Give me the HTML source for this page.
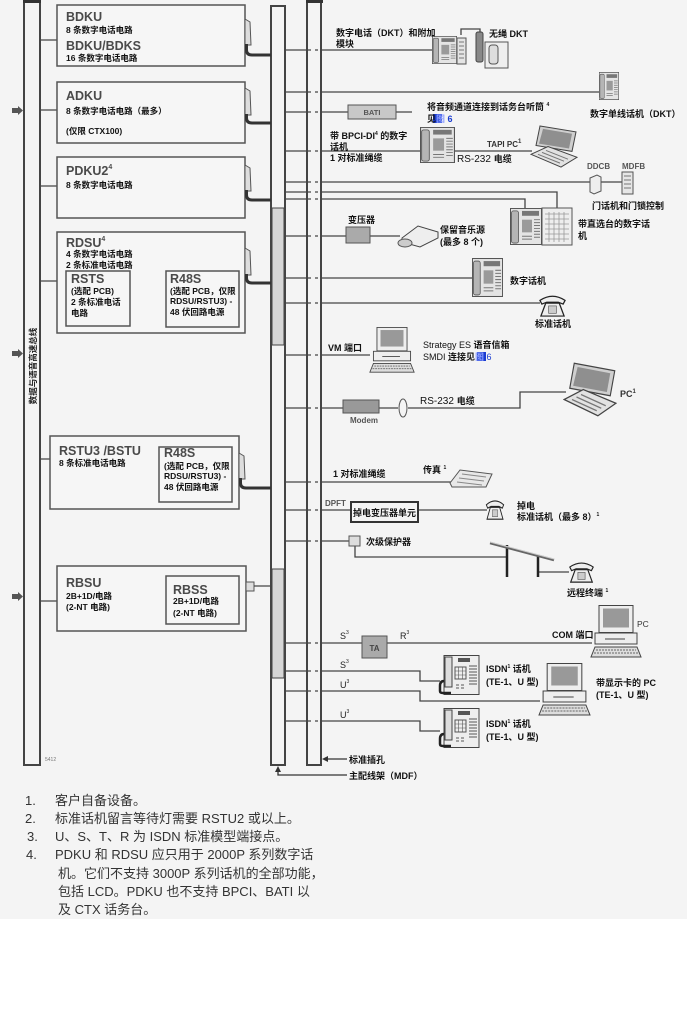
<!DOCTYPE html>
<html><head><meta charset="utf-8">
<style>
html,body{margin:0;padding:0;background:#fff;}
svg{display:block;}
text{font-family:"Liberation Sans","Noto Sans CJK SC",sans-serif;}
.t{font-size:12.5px;font-weight:bold;fill:#4a4a4a;}
.s{font-size:8.5px;font-weight:bold;fill:#111;}
.l{font-size:9px;font-weight:bold;fill:#111;}
.g{font-size:8px;font-weight:bold;fill:#555;}
.fn{font-size:13px;fill:#333;}
</style></head><body>
<svg width="687" height="1013" viewBox="0 0 687 1013" xmlns="http://www.w3.org/2000/svg">
<defs>
<symbol id="dph" viewBox="0 0 32 38" preserveAspectRatio="none">
<rect x="0.5" y="0.5" width="31" height="37" fill="#e4e4e4" stroke="#555"/>
<rect x="1.5" y="3" width="7" height="33" rx="2" fill="#b5b5b5" stroke="#555" stroke-width="0.8"/>
<rect x="12" y="3" width="17" height="5" fill="#777"/>
<rect x="12" y="12" width="10" height="13" fill="#9a9a9a"/>
<path d="M24 12h6M24 15h6M24 18h6M24 21h6M24 24h6M24 27h6M24 30h6M12 29h10M12 32h10" stroke="#777" stroke-width="1"/>
</symbol>
<symbol id="lap" viewBox="0 0 48 44" preserveAspectRatio="none">
<polygon points="10,1 46,7 42,27 6,21" fill="#cfcfcf" stroke="#444"/>
<polygon points="13,4 42,9 39,24 9,19" fill="#8f8f8f"/>
<polygon points="1,30 31,43 47,33 18,22" fill="#e2e2e2" stroke="#444"/>
<path d="M8,30 L30,39 M12,28 L34,37 M16,26 L38,35" stroke="#777"/>
</symbol>
<symbol id="pc" viewBox="0 0 52 53" preserveAspectRatio="none">
<rect x="9" y="0.5" width="34" height="27" fill="#eee" stroke="#444"/>
<rect x="13" y="3.5" width="26" height="19" fill="#999"/>
<rect x="5" y="28" width="42" height="11" fill="#eee" stroke="#444"/>
<path d="M15 34h20" stroke="#444"/>
<polygon points="1,52 51,52 47,42 5,42" fill="#ddd" stroke="#444"/>
<path d="M6 45h40M4 48h44" stroke="#666" stroke-dasharray="2,1"/>
</symbol>
<symbol id="sph" viewBox="0 0 30 26" preserveAspectRatio="none">
<path d="M2 8 Q15 -1 28 8 L26 12 L21 10 L9 10 L4 12 Z" fill="#eee" stroke="#222" stroke-width="1.3"/>
<path d="M8 11 L22 11 L27 25 L3 25 Z" fill="#eee" stroke="#222" stroke-width="1.3"/>
<rect x="11" y="14" width="8" height="8" fill="#ccc" stroke="#555" stroke-width="0.7"/>
</symbol>
<symbol id="isdn" viewBox="0 0 42 40" preserveAspectRatio="none">
<rect x="6" y="0.5" width="35" height="39" fill="#eee" stroke="#444"/>
<rect x="7" y="2" width="7" height="30" fill="#ddd" stroke="#444"/>
<path d="M6 26 q-4 0 -4 5 l0 5 q0 2 3 2 l8 0" stroke="#222" stroke-width="2.5" fill="none"/>
<rect x="20" y="3" width="12" height="4" fill="#555"/>
<rect x="17" y="12" width="11" height="12" fill="none" stroke="#555"/>
<path d="M17 16h11M17 20h11M20.7 12v12M24.3 12v12" stroke="#555" stroke-width="0.6"/>
<path d="M31 11h8M31 14h8M31 17h8M31 20h8M31 23h8M31 26h8M31 29h8" stroke="#555"/>
<path d="M18 30h3M23 30h3M18 33h3M23 33h3" stroke="#555"/>
</symbol>
</defs>

<rect width="687" height="1013" fill="#fff"/>
<rect width="687" height="919" fill="#f4f4f4"/>

<!-- left bar -->
<rect x="24" y="1" width="16" height="764" fill="#f4f4f4" stroke="#444" stroke-width="2"/>
<rect x="23" y="0" width="18" height="3" fill="#333"/>
<text transform="translate(36,366) rotate(-90)" text-anchor="middle" style="font-size:8.5px;font-weight:bold;fill:#222">数据与语音高速总线</text>
<g fill="#555">
<rect x="12" y="108" width="6" height="5"/><polygon points="18,106 23,110.5 18,115"/>
<rect x="12" y="351" width="6" height="5"/><polygon points="18,349 23,353.5 18,358"/>
<rect x="12" y="594" width="6" height="5"/><polygon points="18,592 23,596.5 18,601"/>
</g>
<path d="M41 40H57M41 110H57M41 186H57M41 281H57M41 459H50M41 601H57" stroke="#444" stroke-width="1.3"/>

<!-- left bus -->
<rect x="271" y="6" width="14" height="759" fill="#f4f4f4" stroke="#444" stroke-width="2"/>
<rect x="272" y="208" width="12" height="137" fill="#d6d6d6" stroke="#444" stroke-width="1"/>
<rect x="272" y="569" width="12" height="109" fill="#d6d6d6" stroke="#444" stroke-width="1"/>
<!-- right bus -->
<rect x="307" y="1" width="14" height="764" fill="#f4f4f4" stroke="#444" stroke-width="2"/>
<rect x="306" y="0" width="17" height="3" fill="#333"/>

<!-- bus crossings -->
<path d="M285 50H311M315 50H318M285 92H311M315 92H318M285 112H311M315 112H318M285 151H311M315 151H318M285 182H311M315 182H318M285 192H311M315 192H318M285 199H311M315 199H318M285 236H311M315 236H318M285 278H311M315 278H318M285 303H311M315 303H318M285 355H311M315 355H318M285 408H311M315 408H318M285 482H311M315 482H318M285 510H311M315 510H318M285 541H311M315 541H318M285 643H311M315 643H318M285 671H311M315 671H318M285 691H311M315 691H318M285 721H311M315 721H318" stroke="#444" stroke-width="1.3" fill="none"/>

<!-- cards -->
<g fill="#f6f6f6" stroke="#555" stroke-width="1.5">
<rect x="57" y="5" width="188" height="61"/>
<rect x="57" y="82" width="188" height="61"/>
<rect x="57" y="157" width="188" height="61"/>
<rect x="57" y="232" width="188" height="101"/>
<rect x="66" y="271" width="64" height="55"/>
<rect x="166" y="271" width="73" height="56"/>
<rect x="50" y="436" width="189" height="73"/>
<rect x="159" y="447" width="73" height="55"/>
<rect x="57" y="566" width="189" height="65"/>
<rect x="166" y="576" width="73" height="48"/>
</g>
<!-- tabs -->
<g fill="#ddd" stroke="#555" stroke-width="1">
<polygon points="245,19 250,22 251,45 245,45"/>
<polygon points="245,88 250,91 251,115 245,115"/>
<polygon points="245,165 250,168 251,191 245,191"/>
<polygon points="245,248 250,251 251,275 245,275"/>
<polygon points="239,453 244,456 245,479 239,479"/>
<rect x="246" y="582" width="8" height="9"/>
</g>
<g stroke="#333" stroke-width="3" fill="none">
<path d="M246.5 44V50Q246.5 55 252 55H271"/>
<path d="M246.5 114V118Q246.5 123 252 123H271"/>
<path d="M246.5 190V195Q246.5 200 252 200H271"/>
<path d="M246.5 274V278Q246.5 283 252 283H271"/>
<path d="M240.5 478V483Q240.5 488 246 488H271"/>
</g>
<path d="M254 586H271" stroke="#444" stroke-width="1.3"/>

<!-- card text -->
<text class="t" x="66" y="21">BDKU</text>
<text class="s" x="66" y="33">8 条数字电话电路</text>
<text class="t" x="66" y="50">BDKU/BDKS</text>
<text class="s" x="66" y="61">16 条数字电话电路</text>
<text class="t" x="66" y="100">ADKU</text>
<text class="s" x="66" y="114">8 条数字电话电路（最多）</text>
<text class="s" x="66" y="134">(仅限 CTX100)</text>
<text class="t" x="66" y="175">PDKU2<tspan style="font-size:7px" dy="-6">4</tspan></text>
<text class="s" x="66" y="188">8 条数字电话电路</text>
<text class="t" x="66" y="247">RDSU<tspan style="font-size:7px" dy="-6">4</tspan></text>
<text class="s" x="66" y="257">4 条数字电话电路</text>
<text class="s" x="66" y="268">2 条标准电话电路</text>
<text class="t" x="71" y="283">RSTS</text>
<text class="s" x="71" y="294">(选配 PCB)</text>
<text class="s" x="71" y="305">2 条标准电话</text>
<text class="s" x="71" y="316">电路</text>
<text class="t" x="170" y="283">R48S</text>
<text class="s" x="170" y="294">(选配 PCB，仅限</text>
<text class="s" x="170" y="304">RDSU/RSTU3) -</text>
<text class="s" x="170" y="315">48 伏回路电源</text>
<text class="t" x="59" y="455">RSTU3 /BSTU</text>
<text class="s" x="59" y="466">8 条标准电话电路</text>
<text class="t" x="164" y="457">R48S</text>
<text class="s" x="164" y="469">(选配 PCB，仅限</text>
<text class="s" x="164" y="479">RDSU/RSTU3) -</text>
<text class="s" x="164" y="490">48 伏回路电源</text>
<text class="t" x="66" y="587">RBSU</text>
<text class="s" x="66" y="599">2B+1D/电路</text>
<text class="s" x="66" y="610">(2-NT 电路)</text>
<text class="t" x="173" y="594">RBSS</text>
<text class="s" x="173" y="604">2B+1D/电路</text>
<text class="s" x="173" y="616">(2-NT 电路)</text>
<text x="45" y="761" style="font-size:5px;fill:#777">5412</text>

<!-- outward lines -->
<path d="M322 50H432M322 92H600M322 112H348M396 112H412M322 151H421M455 151H532M322 182H591M600 182H622M322 192H557V208M322 199H525V208M322 236H346M370 236H400M322 278H473M322 303H540M322 355H370M322 408H343M379 408H398M408 408H520V392H566M322 482H452M322 510H351M418 510H487M322 541H349M355 546V557H507M538 572H569M322 643H362M387 643H592M322 671H420V681H440M322 691H420V701H540M322 721H420V731H440M461 35V29H480V33" stroke="#444" stroke-width="1.3" fill="none"/>

<!-- devices -->
<use href="#dph" x="432" y="36" width="25" height="28"/>
<rect x="457" y="38" width="9" height="26" fill="#e4e4e4" stroke="#555"/>
<path d="M459 42h5M459 46h5M459 50h5M459 54h5M459 58h5" stroke="#777"/>
<rect x="476" y="32" width="7" height="30" rx="2" fill="#888" stroke="#444"/>
<rect x="485" y="42" width="23" height="26" fill="#eee" stroke="#555"/>
<rect x="489" y="45" width="9" height="19" rx="3" fill="#ddd" stroke="#555"/>
<use href="#dph" x="599" y="72" width="20" height="28"/>
<rect x="348" y="105" width="48" height="14" fill="#c8c8c8" stroke="#555"/>
<text x="372" y="115" text-anchor="middle" style="font-size:7.5px;font-weight:bold;fill:#555">BATI</text>
<use href="#dph" x="420" y="127" width="35" height="36"/>
<use href="#lap" x="530" y="125" width="48" height="43"/>
<polygon points="590,178 597,175 601,177 601,191 594,194 590,192" fill="#eee" stroke="#555"/>
<rect x="622" y="172" width="11" height="22" fill="#e6e6e6" stroke="#555"/>
<path d="M624 176h7M624 180h7M624 184h7M624 188h7" stroke="#777"/>
<use href="#dph" x="510" y="208" width="32" height="37"/>
<rect x="542" y="208" width="30" height="37" fill="#eee" stroke="#555"/>
<path d="M545 214h24M545 219h24M545 224h24M545 229h24M545 234h24M545 239h24M549 212v30M554 212v30M559 212v30M564 212v30" stroke="#999" stroke-width="0.8"/>
<rect x="346" y="227" width="24" height="16" fill="#aaa" stroke="#555"/>
<polygon points="402,238 418,226 438,232 438,238 420,247 402,242" fill="#eee" stroke="#444"/>
<ellipse cx="405" cy="243" rx="7" ry="4" fill="#ccc" stroke="#555"/>
<use href="#dph" x="472" y="258" width="31" height="39"/>
<use href="#sph" x="538" y="293" width="29" height="24"/>
<use href="#pc" x="369" y="327" width="46" height="46"/>
<rect x="343" y="400" width="36" height="13" fill="#999" stroke="#555"/>
<ellipse cx="403" cy="408" rx="4" ry="9" fill="#f4f4f4" stroke="#555"/>
<use href="#lap" x="563" y="362" width="54" height="55"/>
<polygon points="450,483 460,470 492,474 486,487 452,487" fill="#e8e8e8" stroke="#555"/>
<path d="M462 474l24 3M459 478l25 3M457 482l25 3" stroke="#888"/>
<rect x="351" y="502" width="67" height="20" fill="#f4f4f4" stroke="#333" stroke-width="2"/>
<text x="384.5" y="516" text-anchor="middle" class="l">掉电变压器单元</text>
<use href="#sph" x="485" y="498" width="20" height="22"/>
<rect x="349" y="536" width="11" height="10" fill="#ddd" stroke="#555"/>
<path d="M507 545V577M538 556V577" stroke="#222" stroke-width="2.5"/>
<path d="M490 543L554 560" stroke="#666" stroke-width="2.5"/>
<path d="M490 542L554 559" stroke="#ccc" stroke-width="1"/>
<use href="#sph" x="568" y="560" width="27" height="23"/>
<use href="#pc" x="590" y="605" width="52" height="53"/>
<rect x="362" y="636" width="25" height="22" fill="#aaa" stroke="#555"/>
<text x="374.5" y="651" text-anchor="middle" style="font-size:8px;font-weight:bold;fill:#444">TA</text>
<use href="#isdn" x="438" y="655" width="42" height="40"/>
<use href="#pc" x="538" y="663" width="53" height="53"/>
<use href="#isdn" x="438" y="708" width="42" height="40"/>

<!-- right labels -->
<text class="l" x="336" y="36">数字电话（DKT）和附加</text>
<text class="l" x="336" y="47">模块</text>
<text class="l" x="489" y="37">无绳 DKT</text>
<text class="l" x="590" y="117">数字单线话机（DKT）</text>
<text class="l" x="427" y="110">将音频通道连接到话务台听筒 <tspan style="font-size:5px" dy="-4">4</tspan></text>
<rect x="433" y="114" width="9" height="9" fill="#1a3cd0"/>
<text class="l" x="427" y="122">见<tspan fill="#8fa0ff">图</tspan><tspan fill="#1a3cd0"> 6</tspan></text>
<text class="l" x="330" y="139">带 BPCI-DI<tspan style="font-size:5px" dy="-4">4</tspan><tspan dy="4"> 的数字</tspan></text>
<text class="l" x="330" y="150">话机</text>
<text class="l" x="330" y="161">1 对标准绳缆</text>
<text x="487" y="147" style="font-size:8px;font-weight:bold;fill:#333">TAPI PC<tspan style="font-size:6px" dy="-4">1</tspan></text>
<text x="457" y="162" style="font-size:10px;fill:#111">RS-232 <tspan font-weight="bold" style="font-size:9px">电缆</tspan></text>
<text class="g" x="587" y="169">DDCB</text>
<text class="g" x="622" y="169">MDFB</text>
<text class="l" x="592" y="209">门话机和门锁控制</text>
<text class="l" x="578" y="227">带直选台的数字话</text>
<text class="l" x="578" y="239">机</text>
<text class="l" x="348" y="223">变压器</text>
<text class="l" x="440" y="233">保留音乐源</text>
<text class="l" x="440" y="245">(最多 8 个)</text>
<text class="l" x="510" y="284">数字话机</text>
<text class="l" x="535" y="327">标准话机</text>
<text class="l" x="328" y="351">VM 端口</text>
<text x="423" y="348" style="font-size:9px;fill:#111">Strategy ES <tspan font-weight="bold">语音信箱</tspan></text>
<rect x="477" y="352" width="9" height="9" fill="#1a3cd0"/>
<text x="423" y="360" style="font-size:9px;fill:#111">SMDI <tspan font-weight="bold">连接见<tspan fill="#8fa0ff">图</tspan></tspan><tspan fill="#1a3cd0"> 6</tspan></text>
<text x="420" y="404" style="font-size:10px;fill:#111">RS-232 <tspan font-weight="bold" style="font-size:9px">电缆</tspan></text>
<text class="g" x="350" y="423">Modem</text>
<text x="620" y="397" style="font-size:9px;font-weight:bold;fill:#333">PC<tspan style="font-size:6px" dy="-4">1</tspan></text>
<text class="l" x="333" y="477">1 对标准绳缆</text>
<text class="l" x="423" y="473">传真 <tspan style="font-size:5px" dy="-4">1</tspan></text>
<text class="g" x="325" y="506">DPFT</text>
<text class="l" x="517" y="509">掉电</text>
<text class="l" x="517" y="520">标准话机（最多 8）<tspan style="font-size:5px" dy="-4">1</tspan></text>
<text class="l" x="366" y="545">次级保护器</text>
<text class="l" x="567" y="596">远程终端 <tspan style="font-size:5px" dy="-4">1</tspan></text>
<text x="637" y="627" style="font-size:8.5px;fill:#333">PC</text>
<text class="l" x="552" y="638">COM 端口</text>
<text x="340" y="639" style="font-size:9px;fill:#222">S<tspan style="font-size:5px" dy="-5">3</tspan></text>
<text x="400" y="639" style="font-size:9px;fill:#222">R<tspan style="font-size:5px" dy="-5">3</tspan></text>
<text x="340" y="668" style="font-size:9px;fill:#222">S<tspan style="font-size:5px" dy="-5">3</tspan></text>
<text x="340" y="688" style="font-size:9px;fill:#222">U<tspan style="font-size:5px" dy="-5">3</tspan></text>
<text x="340" y="718" style="font-size:9px;fill:#222">U<tspan style="font-size:5px" dy="-5">3</tspan></text>
<text class="l" x="486" y="672">ISDN<tspan style="font-size:5px" dy="-4">1</tspan><tspan dy="4"> 话机</tspan></text>
<text class="l" x="486" y="685">(TE-1、U 型)</text>
<text class="l" x="596" y="686">带显示卡的 PC</text>
<text class="l" x="596" y="698">(TE-1、U 型)</text>
<text class="l" x="486" y="727">ISDN<tspan style="font-size:5px" dy="-4">1</tspan><tspan dy="4"> 话机</tspan></text>
<text class="l" x="486" y="740">(TE-1、U 型)</text>

<!-- bottom arrows -->
<path d="M347 759H326" stroke="#333" stroke-width="1.3"/>
<polygon points="322,759 328,756 328,762" fill="#333"/>
<text class="l" x="349" y="763">标准插孔</text>
<path d="M347 775H278V770" stroke="#333" stroke-width="1.3" fill="none"/>
<polygon points="278,766 275,772 281,772" fill="#333"/>
<text class="l" x="349" y="779">主配线架（MDF）</text>

<!-- footnotes -->
<text class="fn" x="25" y="805">1.</text><text class="fn" x="55" y="805">客户自备设备。</text>
<text class="fn" x="25" y="823">2.</text><text class="fn" x="55" y="823">标准话机留言等待灯需要 RSTU2 或以上。</text>
<text class="fn" x="27" y="841">3.</text><text class="fn" x="55" y="841">U、S、T、R 为 ISDN 标准模型端接点。</text>
<text class="fn" x="26" y="859">4.</text><text class="fn" x="55" y="859">PDKU 和 RDSU 应只用于 2000P 系列数字话</text>
<text class="fn" x="58" y="878">机。它们不支持 3000P 系列话机的全部功能，</text>
<text class="fn" x="58" y="896">包括 LCD。PDKU 也不支持 BPCI、BATI 以</text>
<text class="fn" x="58" y="914">及 CTX 话务台。</text>
</svg>
</body></html>
